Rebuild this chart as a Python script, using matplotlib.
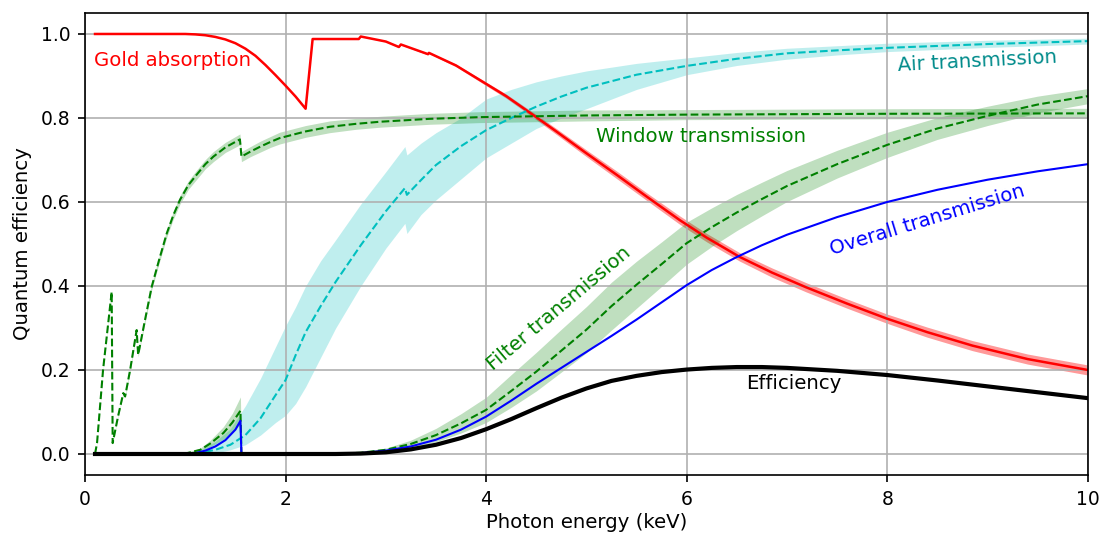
import numpy as np
import matplotlib.pyplot as plt

# gold absorption (red)
gold_e = [0.1, 0.5, 1.0, 1.1, 1.2, 1.3, 1.4, 1.5, 1.6, 1.7, 1.8, 1.9, 2.0, 2.1, 2.2, 2.27, 2.5, 2.73, 2.75,
          3.0, 3.13, 3.15, 3.42, 3.43, 3.7, 3.94, 4.2, 4.44, 4.7, 5.0, 5.3, 5.6, 5.93, 6.2, 6.53, 6.85, 7.19,
          7.6, 8.0, 8.4, 8.85, 9.4, 10.0]
gold_v = [1.0, 1.0, 1.0, 0.999, 0.997, 0.993, 0.987, 0.978, 0.965, 0.948, 0.926, 0.902, 0.877, 0.851,
          0.822, 0.988, 0.988, 0.988, 0.994, 0.982, 0.969, 0.975, 0.952, 0.955, 0.925, 0.890, 0.852, 0.812,
          0.768, 0.716, 0.665, 0.613, 0.557, 0.515, 0.469, 0.432, 0.397, 0.358, 0.322, 0.290, 0.258, 0.226,
          0.200]
gold_err = [0, 0, 0, 0, 0, 0, 0, 0, 0, 0, 0, 0, 0, 0, 0, 0, 0, 0, 0, 0.001, 0.001, 0.001, 0.002, 0.002,
            0.003, 0.004, 0.005, 0.006, 0.007, 0.008, 0.009, 0.009, 0.01, 0.01, 0.01, 0.011, 0.011, 0.011,
            0.011, 0.012, 0.012, 0.012, 0.012]

# air transmission (cyan)
air_e = [0.1, 1.0, 1.15, 1.3, 1.45, 1.6, 1.75, 1.9, 2.0, 2.1, 2.2, 2.35, 2.5, 2.75, 3.0, 3.19, 3.21, 3.35,
         3.5, 3.75, 4.0, 4.25, 4.5, 4.75, 5.0, 5.5, 6.0, 6.5, 7.0, 7.5, 8.0, 9.0, 10.0]
air_v = [0.0, 0.0, 0.003, 0.01, 0.022, 0.045, 0.085, 0.14, 0.176, 0.235, 0.29, 0.352, 0.41, 0.497, 0.578,
         0.633, 0.617, 0.652, 0.688, 0.733, 0.771, 0.800, 0.827, 0.851, 0.872, 0.903, 0.924, 0.941, 0.954,
         0.961, 0.967, 0.976, 0.983]
air_hi = [0.0, 0.002, 0.01, 0.03, 0.06, 0.115, 0.18, 0.255, 0.305, 0.35, 0.40, 0.46, 0.51, 0.595, 0.672,
          0.732, 0.712, 0.74, 0.765, 0.80, 0.845, 0.868, 0.886, 0.90, 0.912, 0.93, 0.943, 0.956, 0.966, 0.972,
          0.978, 0.985, 0.99]
air_lo = [0.0, 0.0, 0.0, 0.002, 0.01, 0.022, 0.045, 0.075, 0.092, 0.12, 0.16, 0.23, 0.30, 0.40, 0.49, 0.549,
          0.525, 0.57, 0.605, 0.655, 0.705, 0.74, 0.775, 0.80, 0.822, 0.868, 0.903, 0.925, 0.94, 0.95, 0.958,
          0.968, 0.976]

# window transmission (green)
win_e = [0.1, 0.12, 0.18, 0.266, 0.276, 0.33, 0.382, 0.40, 0.45, 0.515, 0.53, 0.6, 0.665, 0.74, 0.815, 0.88,
         0.947, 1.03, 1.11, 1.2, 1.28, 1.4, 1.545, 1.56, 1.65, 1.75, 1.85, 1.94, 2.2, 2.44, 2.7, 2.94, 3.44,
         3.94, 5.0, 6.0, 7.0, 8.0, 10.0]
win_v = [0.0, 0.026, 0.2, 0.386, 0.026, 0.09, 0.145, 0.137, 0.2, 0.295, 0.236, 0.321, 0.398, 0.463, 0.525,
         0.568, 0.605, 0.64, 0.664, 0.69, 0.708, 0.73, 0.749, 0.708, 0.72, 0.732, 0.743, 0.752, 0.768, 0.779,
         0.786, 0.791, 0.798, 0.802, 0.806, 0.808, 0.809, 0.810, 0.811]
win_err = [0, 0.001, 0.002, 0.003, 0.001, 0.002, 0.003, 0.003, 0.004, 0.005, 0.005, 0.006, 0.007, 0.008,
           0.009, 0.009, 0.01, 0.01, 0.011, 0.011, 0.012, 0.012, 0.013, 0.012, 0.012, 0.013, 0.013, 0.014,
           0.014, 0.014, 0.013, 0.013, 0.013, 0.013, 0.013, 0.012, 0.012, 0.012, 0.012]

# filter transmission (green)
filt_e = [0.1, 0.9, 1.0, 1.15, 1.25, 1.38, 1.47, 1.55, 1.56, 2.0, 2.5, 2.75, 3.0, 3.25, 3.5, 3.75, 4.0, 4.25,
          4.5, 4.75, 5.0, 5.25, 5.5, 5.75, 6.0, 6.25, 6.5, 6.75, 7.0, 7.5, 8.0, 8.5, 9.0, 9.5, 10.0]
filt_v = [0.0, 0.0, 0.001, 0.01, 0.025, 0.05, 0.075, 0.103, 0.0, 0.0, 0.0, 0.003, 0.01, 0.024, 0.045, 0.073,
          0.105, 0.15, 0.196, 0.246, 0.296, 0.352, 0.403, 0.452, 0.502, 0.54, 0.575, 0.607, 0.638, 0.69,
          0.736, 0.775, 0.805, 0.832, 0.852]
filt_err = [0, 0, 0.001, 0.004, 0.008, 0.015, 0.022, 0.033, 0, 0, 0, 0.002, 0.004, 0.009, 0.016, 0.023, 0.03,
            0.039, 0.046, 0.051, 0.055, 0.057, 0.056, 0.053, 0.05, 0.046, 0.043, 0.04, 0.037, 0.033, 0.03,
            0.026, 0.023, 0.02, 0.018]

# overall transmission (blue)
tot_e = [0.1, 1.0, 1.1, 1.2, 1.3, 1.4, 1.5, 1.55, 1.56, 2.0, 2.5, 2.75, 3.0, 3.25, 3.5, 3.75, 4.0, 4.25, 4.5,
         4.75, 5.0, 5.25, 5.5, 5.75, 6.0, 6.25, 6.5, 6.75, 7.0, 7.5, 8.0, 8.5, 9.0, 9.5, 10.0]
tot_v = [0.0, 0.0, 0.002, 0.008, 0.018, 0.033, 0.058, 0.079, 0.0, 0.0, 0.0, 0.002, 0.008, 0.018, 0.034,
         0.058, 0.089, 0.127, 0.167, 0.205, 0.243, 0.281, 0.32, 0.361, 0.402, 0.438, 0.469, 0.497, 0.522,
         0.564, 0.600, 0.629, 0.653, 0.673, 0.690]

# efficiency (black)
eff_e = [0.1, 2.5, 2.75, 3.0, 3.25, 3.5, 3.75, 4.0, 4.25, 4.5, 4.75, 5.0, 5.25, 5.5, 5.75, 6.0, 6.25, 6.5,
         6.75, 7.0, 7.5, 8.0, 8.5, 9.0, 9.5, 10.0]
eff_v = [0.0, 0.0, 0.001, 0.004, 0.011, 0.022, 0.038, 0.059, 0.083, 0.109, 0.134, 0.156, 0.174, 0.186, 0.195,
         0.201, 0.205, 0.207, 0.207, 0.205, 0.198, 0.188, 0.175, 0.161, 0.147, 0.133]


def band(v, err):
    v = np.array(v)
    err = np.array(err)
    return v - err, v + err


fig, ax = plt.subplots(figsize=(7.34, 3.56), dpi=150)
fig.subplots_adjust(left=0.0772, right=0.988, top=0.9757, bottom=0.1105)

lo, hi = band(gold_v, gold_err)
ax.fill_between(gold_e, lo, hi, color='r', alpha=0.4, lw=0)
ax.fill_between(air_e, air_lo, air_hi, color='c', alpha=0.25, lw=0)
lo, hi = band(win_v, win_err)
ax.fill_between(win_e, lo, hi, color='g', alpha=0.25, lw=0)
lo, hi = band(filt_v, filt_err)
ax.fill_between(filt_e, lo, hi, color='g', alpha=0.25, lw=0)

ax.plot(gold_e, gold_v, 'r-', lw=1.2)
ax.plot(air_e, air_v, 'c--', lw=1.0)
ax.plot(win_e, win_v, 'g--', lw=1.0)
ax.plot(filt_e, filt_v, 'g--', lw=1.0)
ax.plot(tot_e, tot_v, 'b-', lw=1.0)
ax.plot(eff_e, eff_v, 'k-', lw=2.0)

fs = 9.5
ax.text(0.09, 0.936, 'Gold absorption', color='r', ha='left', va='center', fontsize=fs)
ax.text(8.9, 0.935, 'Air transmission', color='darkcyan', ha='center', va='center', rotation=3, fontsize=fs)
ax.text(6.14, 0.757, 'Window transmission', color='g', ha='center', va='center', fontsize=fs)
ax.text(4.73, 0.347, 'Filter transmission', color='g', ha='center', va='center', rotation=40, fontsize=fs)
ax.text(8.4, 0.557, 'Overall transmission', color='b', ha='center', va='center', rotation=17, fontsize=fs)
ax.text(7.07, 0.167, 'Efficiency', color='k', ha='center', va='center', fontsize=fs)

ax.set_xlim(0, 10)
ax.set_ylim(-0.05, 1.05)
ax.set_xlabel('Photon energy (keV)', fontsize=fs, labelpad=2)
ax.set_ylabel('Quantum efficiency', fontsize=fs)
ax.tick_params(labelsize=9)
ax.grid(True)

fig.savefig('out.png', dpi=150)
